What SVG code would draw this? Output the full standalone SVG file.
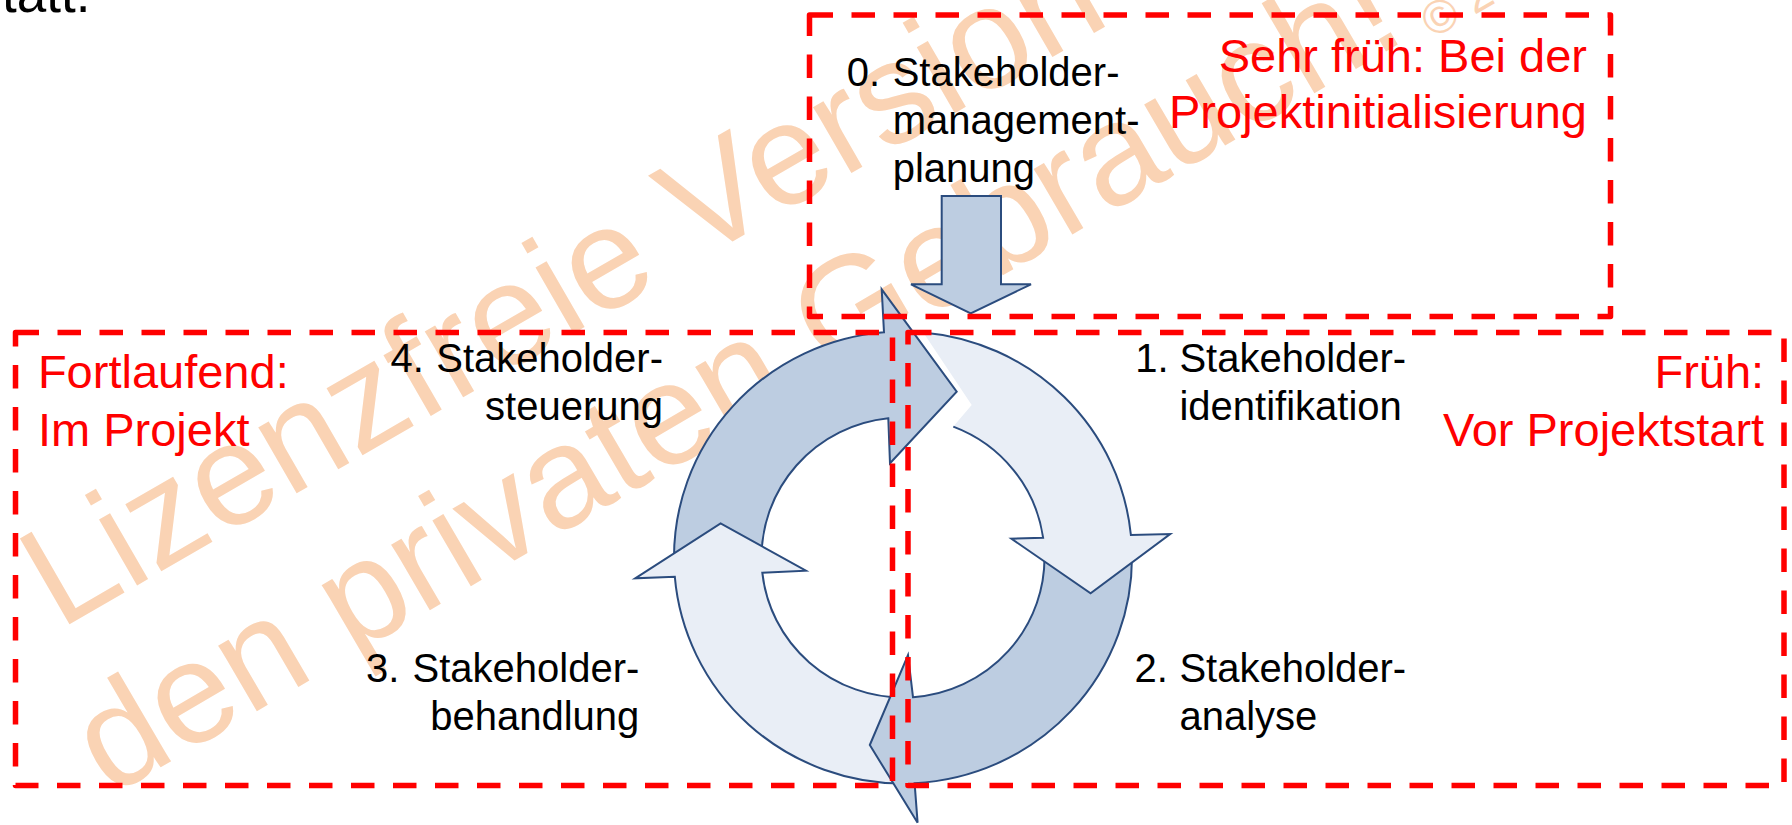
<svg xmlns="http://www.w3.org/2000/svg" width="1792" height="825" viewBox="0 0 1792 825">
<defs>
<style>
text{font-family:"Liberation Sans",Arial,sans-serif}
.wm{font-size:144px;fill:#FAD3B4}
.wms{font-size:47px;fill:#FAD3B4}
.lbl{font-size:40px;fill:#000}
.end{text-anchor:end}
.red{font-size:47px;fill:#FF0000}
.box{fill:none;stroke:#FF0000;stroke-width:5.5;stroke-dasharray:23.5 18.5;stroke-linejoin:round}
.dark{fill:#BDCDE1;stroke:#2B4C7E;stroke-width:2;stroke-linejoin:miter}
.light{fill:#E9EEF6;stroke:#2B4C7E;stroke-width:2;stroke-linejoin:miter}
.lightfill{fill:#E9EEF6;stroke:none}
.outline{fill:none;stroke:#2B4C7E;stroke-width:2}
</style>
</defs>
<rect width="1792" height="825" fill="#FFFFFF"/>

<g id="watermark">
<text class="wm" transform="translate(59.3 630.3) rotate(-30)">Lizenzfreie Version</text>
<text class="wm" transform="translate(110 797) rotate(-30.3)">den privaten Gebrauch!</text>
<text class="wms" transform="translate(1433 39) rotate(-30)">© 2</text>
</g>

<g id="header-fragment">
<text x="2" y="11.5" style="font-size:53px;fill:#000">tatt.</text>
</g>

<g id="step4">
<path class="dark" d="M 674.05 562 A 229 226 0 0 1 884 332.3 L 881.7 289.3 L 956.7 391.7 L 890 463.3 L 888.3 418.3 A 141.5 140 0 0 0 761.6 562 Z"/>
<text class="lbl" x="390.6" y="371.5">4.</text>
<text class="lbl end" x="663" y="371.5">Stakeholder-</text>
<text class="lbl end" x="663" y="420">steuerung</text>
</g>

<g id="step3">
<path class="light" d="M 905 783.5 A 229 226 0 0 1 674.8 576.7 L 635.2 578.3 L 720.6 523.3 L 805.9 570.7 L 762.3 572.7 A 141.5 140 0 0 0 905 697.5 Z"/>
<text class="lbl" x="366" y="681.5">3.</text>
<text class="lbl end" x="639.3" y="681.5">Stakeholder-</text>
<text class="lbl end" x="639.3" y="730">behandlung</text>
</g>

<g id="step2">
<path class="dark" d="M 1131.9 552 A 229 226 0 0 1 914.6 783.2 L 917.6 822.7 L 869.8 745 L 908 655 L 913 697.2 A 141.5 140 0 0 0 1044.4 552 Z"/>
<text class="lbl" x="1134.4" y="681.5">2.</text>
<text class="lbl" x="1179.4" y="681.5">Stakeholder-</text>
<text class="lbl" x="1179.4" y="730">analyse</text>
</g>

<g id="step1">
<path class="lightfill" d="M 923.3 332.4 A 229 226 0 0 1 1130.9 535 L 1170.2 534 L 1090.6 593.3 L 1011.4 538.7 L 1043.1 537.7 A 141.5 140 0 0 0 953.3 426.6 L 971.7 405 Z"/>
<path class="outline" d="M 923.3 332.4 A 229 226 0 0 1 1130.9 535 L 1170.2 534 L 1090.6 593.3 L 1011.4 538.7 L 1043.1 537.7 A 141.5 140 0 0 0 953.3 426.6"/>
<text class="lbl" x="1135.3" y="371.5">1.</text>
<text class="lbl" x="1179.4" y="371.5">Stakeholder-</text>
<text class="lbl" x="1179.4" y="420">identifikation</text>
</g>

<g id="step0">
<text class="lbl" x="846.7" y="85.5">0.</text>
<text class="lbl" x="892.7" y="85.5">Stakeholder-</text>
<text class="lbl" x="892.7" y="133.5">management-</text>
<text class="lbl" x="892.7" y="181.5">planung</text>
</g>

<g id="connectors">
<path class="dark" d="M 941.7 196 L 1001 196 L 1001 284.3 L 1031 284.3 L 970.7 313.3 L 911 284.3 L 941.7 284.3 Z"/>
</g>

<g id="phase-initialisation">
<rect class="box" x="809.5" y="15" width="801" height="301.5"/>
<text class="red end" x="1587" y="71.7">Sehr früh: Bei der</text>
<text class="red end" x="1587" y="128.3">Projektinitialisierung</text>
</g>

<g id="phase-ongoing">
<rect class="box" x="15.5" y="332.5" width="877" height="453"/>
<text class="red" x="37.9" y="388.3">Fortlaufend:</text>
<text class="red" x="37.9" y="446">Im Projekt</text>
</g>

<g id="phase-early">
<rect class="box" x="908" y="332.5" width="876" height="453"/>
<text class="red end" x="1764.2" y="388.3">Früh:</text>
<text class="red end" x="1764.2" y="446">Vor Projektstart</text>
</g>
</svg>
